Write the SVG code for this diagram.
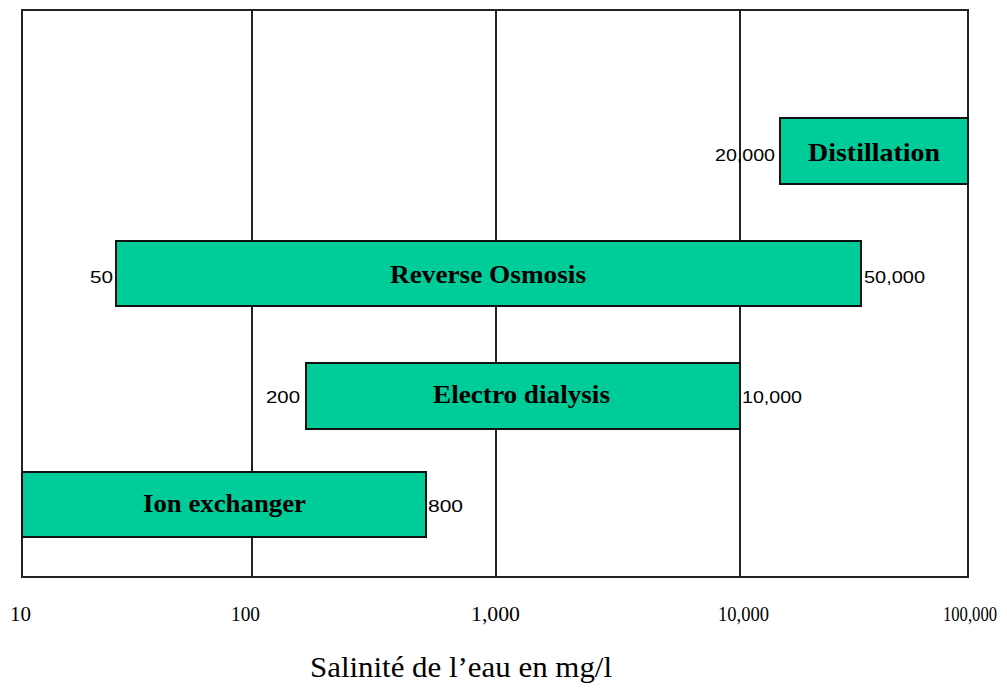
<svg xmlns="http://www.w3.org/2000/svg" width="1007" height="695" viewBox="0 0 1007 695">
<style>
.grid{stroke:#222;stroke-width:2;fill:none}
.bar{fill:#00CC99;stroke:#111;stroke-width:2}
.bl{font-family:"Liberation Serif",serif;font-weight:bold;font-size:25px;fill:#000}
.val{font-family:"Liberation Sans",sans-serif;font-size:17px;fill:#000}
.tick{font-family:"Liberation Serif",serif;font-size:20px;fill:#000}
.title{font-family:"Liberation Serif",serif;font-size:30px;fill:#000}
</style>
<rect width="1007" height="695" fill="#fff"/>
<g id="axes">
<rect class="grid" x="22" y="10" width="946" height="567"/>
<line class="grid" x1="252" y1="10" x2="252" y2="577"/>
<line class="grid" x1="496" y1="10" x2="496" y2="577"/>
<line class="grid" x1="740" y1="10" x2="740" y2="577"/>
</g>
<g id="distillation">
<rect class="bar" x="780" y="118" width="188" height="66"/>
<text class="bl" x="808" y="161" textLength="132" lengthAdjust="spacingAndGlyphs">Distillation</text>
<text class="val" x="715" y="161" textLength="60" lengthAdjust="spacingAndGlyphs">20,000</text>
</g>
<g id="reverse-osmosis">
<rect class="bar" x="116" y="241" width="745" height="65"/>
<text class="bl" x="390" y="283" textLength="196" lengthAdjust="spacingAndGlyphs">Reverse Osmosis</text>
<text class="val" x="90" y="283" textLength="23" lengthAdjust="spacingAndGlyphs">50</text>
<text class="val" x="864" y="283" textLength="61" lengthAdjust="spacingAndGlyphs">50,000</text>
</g>
<g id="electro-dialysis">
<rect class="bar" x="306" y="363" width="434" height="66"/>
<text class="bl" x="433" y="403" textLength="177" lengthAdjust="spacingAndGlyphs">Electro dialysis</text>
<text class="val" x="266" y="403" textLength="34" lengthAdjust="spacingAndGlyphs">200</text>
<text class="val" x="742" y="403" textLength="60" lengthAdjust="spacingAndGlyphs">10,000</text>
</g>
<g id="ion-exchanger">
<rect class="bar" x="22" y="472" width="404" height="65"/>
<text class="bl" x="143" y="512" textLength="163" lengthAdjust="spacingAndGlyphs">Ion exchanger</text>
<text class="val" x="428" y="512" textLength="35" lengthAdjust="spacingAndGlyphs">800</text>
</g>
<g id="x-axis">
<text class="tick" x="10" y="621" textLength="21" lengthAdjust="spacingAndGlyphs">10</text>
<text class="tick" x="231" y="621" textLength="29" lengthAdjust="spacingAndGlyphs">100</text>
<text class="tick" x="471" y="621" textLength="49" lengthAdjust="spacingAndGlyphs">1,000</text>
<text class="tick" x="718" y="621" textLength="51" lengthAdjust="spacingAndGlyphs">10,000</text>
<text class="tick" x="943" y="621" textLength="54" lengthAdjust="spacingAndGlyphs">100,000</text>
<text class="title" x="310" y="677" textLength="302" lengthAdjust="spacingAndGlyphs">Salinité de l’eau en mg/l</text>
</g>
</svg>
